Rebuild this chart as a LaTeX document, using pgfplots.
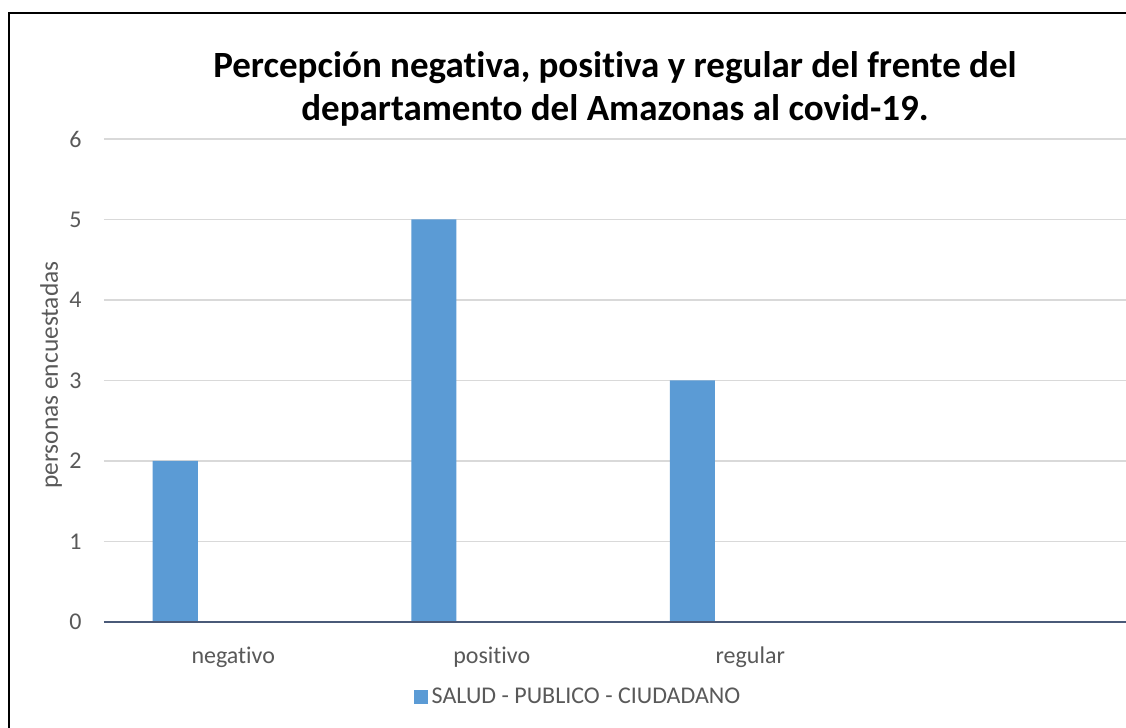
\documentclass[border=0pt]{standalone}
\usepackage{fontspec}
\setmainfont{Carlito}[Ligatures=NoCommon]
\usepackage{pgfplots}
\pgfplotsset{compat=1.18}
\definecolor{barblue}{HTML}{5B9BD5}
\definecolor{txtgray}{HTML}{595959}
\definecolor{gridgray}{HTML}{D9D9D9}
\definecolor{axisline}{HTML}{4A5A78}
\begin{document}
\begin{tikzpicture}
\useasboundingbox (0,0) rectangle (563pt,364pt);
\clip (0,0) rectangle (563pt,364pt);
\fill[white] (0,0) rectangle (563pt,364pt);
\draw[line width=0.9pt,black] (4.5pt,-20pt) -- (4.5pt,357.5pt) -- (600pt,357.5pt);
\begin{axis}[
  at={(52pt,53pt)}, anchor=south west,
  scale only axis, width=517pt, height=241.5pt,
  xmin=-0.5, xmax=3.5, ymin=0, ymax=6,
  ytick={0,1,2,3,4,5,6},
  xtick={0,1,2}, xticklabels={negativo,positivo,regular},
  axis line style={draw=none},
  tick style={draw=none},
  major tick length=0pt,
  ymajorgrids, grid style={gridgray, line width=0.75pt},
  /pgf/number format/assume math mode=true,
  tick label style={font=\fontsize{12}{14}\selectfont, text=txtgray},
  yticklabel style={anchor=east, inner sep=0pt, xshift=-11pt},
  xticklabel style={anchor=center, inner sep=0pt, yshift=-17.5pt},
  ylabel={personas encuestadas},
  ylabel style={at={(axis description cs:-0.05126,0.5114)}, anchor=center,
    font=\fontsize{12.7}{15}\selectfont, text=txtgray},
  title={Percepción negativa, positiva y regular del frente del\\departamento del Amazonas al covid-19.},
  title style={at={(axis description cs:0.4942,1.0)}, anchor=south,
    inner sep=0pt, align=center, text=black,
    font=\bfseries\fontsize{18.5}{21.5}\selectfont},
  legend style={at={(axis description cs:0.4594,-0.1553)}, anchor=center,
    draw=none, fill=none, font=\fontsize{12}{14}\selectfont, text=txtgray},
  legend image code/.code={\fill[barblue] (0pt,-3.5pt) rectangle (7pt,3.5pt);},
  clip=false,
]
\addplot[ybar, bar width=22.5pt, bar shift=-29pt, fill=barblue, draw=none]
  coordinates {(0,2) (1,5) (2,3)};
\addlegendentry{SALUD - PUBLICO - CIUDADANO}
\draw[axisline, line width=1pt] (axis cs:-0.5,0) -- (axis cs:3.5,0);
\end{axis}
\end{tikzpicture}
\end{document}
